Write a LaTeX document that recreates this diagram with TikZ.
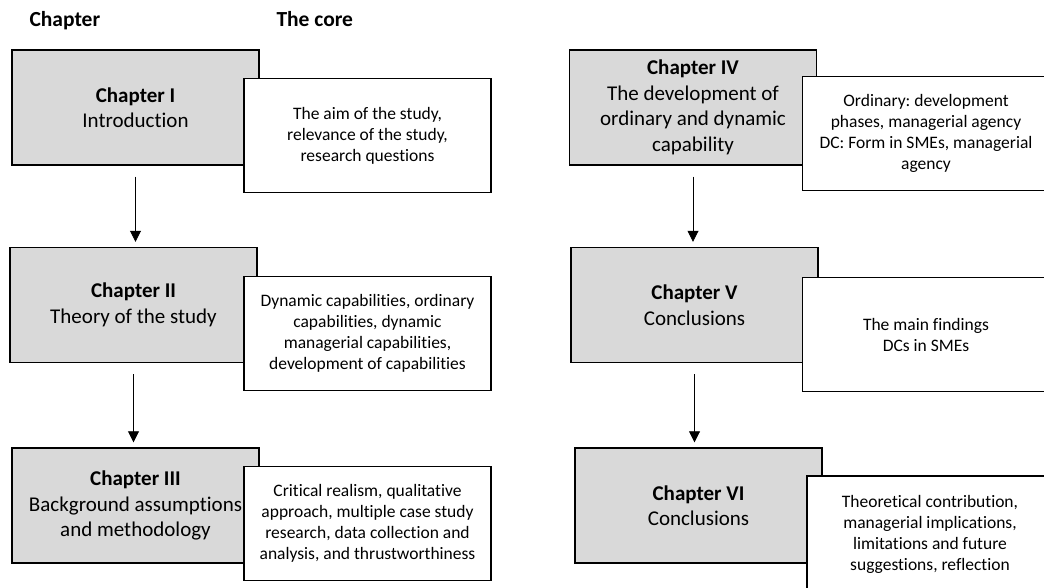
\documentclass[tikz,border=0pt]{standalone}
\usepackage{fontspec}
\setmainfont{Carlito}[Ligatures=NoCommon]
\usetikzlibrary{arrows.meta}
\definecolor{chapgray}{HTML}{D9D9D9}
\frenchspacing

\begin{document}
\begin{tikzpicture}[x=1pt,y=-1pt,
  chap/.style={draw=black, line width=1.4pt, fill=chapgray, align=center,
    minimum width=247pt, minimum height=115pt, inner sep=0pt,
    font=\fontsize{21}{25.5}\selectfont},
  core/.style={draw=black, line width=1.4pt, fill=white, align=center,
    minimum width=247pt, minimum height=114pt, inner sep=0pt,
    font=\fontsize{17.5}{21}\selectfont},
  head/.style={anchor=base west, font=\bfseries\fontsize{21.5}{25}\selectfont},
  flow/.style={line width=0.8pt, -{Triangle[width=11pt,length=11pt]},
    shorten <=11pt, shorten >=5pt}]
\useasboundingbox (0,0) rectangle (1044,587);
\clip (0,0) rectangle (1044,587);

% column headings
\node[head] (hchap) at (26,26.5) {Chapter};
\node[head] (hcore) at (273,26.5) {The core};

% left column: chapters I--III
\node[chap] (gI) at (135.5,107.5) {\textbf{Chapter I}\\Introduction};
\node[core] (cI) at (367.5,135.5) {The aim of the study,\\relevance of the study,\\research questions};

\node[chap] (gII) at (133.5,305) {\textbf{Chapter II}\\Theory of the study};
\node[core] (cII) at (367.5,333.5) {Dynamic capabilities, ordinary\\capabilities, dynamic\\managerial capabilities,\\development of capabilities};

\node[chap] (gIII) at (135.5,505.5) {\textbf{Chapter III}\\Background assumptions\\and methodology};
\node[core] (cIII) at (367.5,523.5) {Critical realism, qualitative\\approach, multiple case study\\research, data collection and\\analysis, and thrustworthiness};

% right column: chapters IV--VI
\node[chap] (gIV) at (693,107.5) {\textbf{Chapter IV}\\The development of\\ordinary and dynamic\\capability};
\node[core] (cIV) at (926,133.5) {Ordinary: development\\phases, managerial agency\\DC: Form in SMEs, managerial\\agency};

\node[chap] (gV) at (694.5,305) {\textbf{Chapter V}\\Conclusions};
\node[core] (cV) at (926,334.5) {The main findings\\DCs in SMEs};

\node[chap] (gVI) at (698.5,505.5) {\textbf{Chapter VI}\\Conclusions};
\node[core, minimum width=246pt, minimum height=117pt] (cVI) at (930,534.5) {Theoretical contribution,\\managerial implications,\\limitations and future\\suggestions, reflection};

% reading order
\draw[flow] (gI.south) -- (gI.south |- gII.north);
\draw[flow] (gII.south) -- (gII.south |- gIII.north);
\draw[flow] (gIV.south) -- (gIV.south |- gV.north);
\draw[flow] (gV.south) -- (gV.south |- gVI.north);
\end{tikzpicture}
\end{document}
